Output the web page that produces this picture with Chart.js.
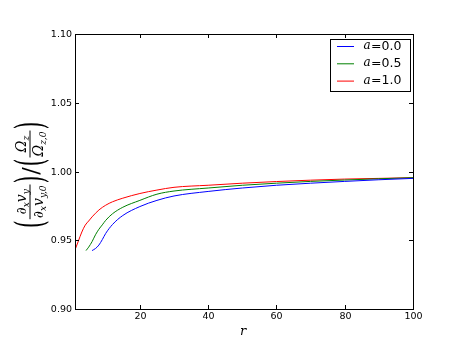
<html>
<head>
<script src="https://cdn.jsdelivr.net/npm/chart.js@4.4.1/dist/chart.umd.min.js"></script>
<style>
  body { margin: 0; background: #fff; }
  #wrap { width: 458px; height: 345px; }
</style>
</head>
<body>
<div id="wrap"><canvas id="line-chart" width="458" height="345"></canvas></div>

<script>
// values
var seriesLabels = ["0.0", "0.5", "1.0"]
var seriesColors = ["#0000ff", "#008000", "#ff0000"]

var rBlue = [6, 7, 8, 9, 10, 12, 15, 20, 25, 30, 40, 50, 60, 70, 80, 90, 100]
var vBlue = [0.9425, 0.944, 0.9465, 0.9505, 0.955, 0.9615, 0.968, 0.9745, 0.979, 0.9822, 0.9855, 0.988, 0.990, 0.9915, 0.9928, 0.994, 0.995]

var rGreen = [4.23, 5, 6, 7, 8, 9, 10, 12, 15, 20, 25, 30, 40, 50, 60, 70, 80, 90, 100]
var vGreen = [0.9425, 0.945, 0.949, 0.954, 0.958, 0.9612, 0.9645, 0.9693, 0.974, 0.979, 0.9835, 0.9858, 0.988, 0.990, 0.9915, 0.9928, 0.9938, 0.9947, 0.9955]

var rRed = [1, 2, 3, 4, 5, 6, 8, 10, 12, 15, 20, 25, 30, 40, 50, 60, 70, 80, 90, 100]
var vRed = [0.943, 0.9495, 0.956, 0.961, 0.964, 0.967, 0.972, 0.9755, 0.978, 0.9806, 0.984, 0.9865, 0.9885, 0.990, 0.9915, 0.9927, 0.9937, 0.9945, 0.995, 0.9955]

var xTicks = [20, 40, 60, 80, 100]
var yTicks = [0.90, 0.95, 1.00, 1.05, 1.10]

function toPoints(xs, ys){
  var pts = []
  for (var i = 0; i < xs.length; i++){
    pts.push({x: xs[i], y: ys[i]})
  }
  return pts
}

var allR = [rBlue, rGreen, rRed]
var allV = [vBlue, vGreen, vRed]
var datasets = []
for (var i = 0; i < 3; i++){
  datasets.push({
    label: seriesLabels[i],
    data: toPoints(allR[i], allV[i]),
    borderColor: seriesColors[i],
    borderWidth: 1,
    pointRadius: 0,
    fill: false,
    cubicInterpolationMode: 'monotone'
  })
}

// frame, inward ticks, tick labels, legend and axis titles
var decorPlugin = {
  id: 'decor',
  afterDraw: function(chart){
    var ctx = chart.ctx
    var a = chart.chartArea
    var xs = chart.scales.x
    var ys = chart.scales.y
    ctx.save()
    ctx.strokeStyle = '#000'
    ctx.lineWidth = 1
    ctx.fillStyle = '#000'
    ctx.font = '9.5px "DejaVu Sans"'
    ctx.beginPath()
    for (var t of xTicks){
      var px = Math.round(xs.getPixelForValue(t)) + 0.5
      ctx.moveTo(px, a.bottom); ctx.lineTo(px, a.bottom - 4)
      ctx.moveTo(px, a.top); ctx.lineTo(px, a.top + 4)
      ctx.textAlign = 'center'
      ctx.textBaseline = 'middle'
      ctx.fillText(String(t), px, a.bottom + 8)
    }
    for (var t of yTicks){
      var py = Math.round(ys.getPixelForValue(t)) + 0.5
      ctx.moveTo(a.left, py); ctx.lineTo(a.left + 4, py)
      ctx.moveTo(a.right, py); ctx.lineTo(a.right - 4, py)
      ctx.textAlign = 'right'
      ctx.textBaseline = 'middle'
      ctx.fillText(t.toFixed(2), a.left - 3, py)
    }
    ctx.stroke()
    ctx.strokeRect(Math.round(a.left) + 0.5, Math.round(a.top) + 0.5, Math.round(a.right - a.left), Math.round(a.bottom - a.top))

    // legend
    var lx = 330.5, ly = 39.5
    ctx.fillStyle = '#fff'
    ctx.fillRect(lx, ly, 80, 52)
    ctx.strokeRect(lx, ly, 80, 52)
    for (var i = 0; i < 3; i++){
      var yy = 46 + i * 17.3
      ctx.strokeStyle = seriesColors[i]
      ctx.beginPath()
      ctx.moveTo(337, yy + 0.5); ctx.lineTo(354, yy + 0.5)
      ctx.stroke()
      ctx.fillStyle = '#000'
      ctx.textBaseline = 'middle'
      ctx.textAlign = 'left'
      ctx.font = 'italic 12px "DejaVu Serif"'
      ctx.fillText('a', 363.5, yy)
      ctx.font = '12.5px "DejaVu Sans"'
      ctx.fillText('=' + seriesLabels[i], 371, yy + 0.5)
    }

    // x title
    ctx.fillStyle = '#000'
    ctx.textAlign = 'center'
    ctx.textBaseline = 'middle'
    ctx.font = 'italic 13px "DejaVu Serif"'
    ctx.fillText('r', 243, 332)

    // y title, drawn rotated
    ctx.translate(30, 172)
    ctx.rotate(-Math.PI / 2)
    drawFormula(ctx)
    ctx.restore()
  }
}

function part(ctx, txt, x, y, size, italic){
  ctx.font = (italic ? 'italic ' : '') + size + 'px "DejaVu Serif"'
  ctx.fillText(txt, x, y)
  return x + ctx.measureText(txt).width
}

function paren(ctx, ch, x){
  ctx.save()
  ctx.font = '40px "DejaVu Serif"'
  ctx.textBaseline = 'middle'
  var w = ctx.measureText(ch).width * 0.5
  ctx.translate(x, 0)
  ctx.scale(0.5, 1)
  ctx.fillText(ch, 0, 3)
  ctx.restore()
  return x + w
}

function fracPart(ctx, x, top, bottom){
  // top/bottom: lists of [text, size, italic, dy]
  ctx.textBaseline = 'alphabetic'
  function width(list){
    var w = 0
    for (var p of list){
      ctx.font = (p[2] ? 'italic ' : '') + p[1] + 'px "DejaVu Serif"'
      w += ctx.measureText(p[0]).width
    }
    return w
  }
  var wt = width(top), wb = width(bottom)
  var w = Math.max(wt, wb) + 2
  var cx = x + (w - wt) / 2
  for (var p of top){ cx = part(ctx, p[0], cx, -4 + p[3], p[1], p[2]) }
  cx = x + (w - wb) / 2
  for (var p of bottom){ cx = part(ctx, p[0], cx, 13 + p[3], p[1], p[2]) }
  ctx.fillRect(x, -0.5, w, 1)
  return x + w
}

function drawFormula(ctx){
  ctx.fillStyle = '#000'
  ctx.textAlign = 'left'
  var x = -56
  x = paren(ctx, '(', x)
  x = fracPart(ctx, x + 1,
    [['\u2202', 14, true, 0], ['x', 9, true, 3], ['v', 14, true, 0], ['y', 9, true, 3]],
    [['\u2202', 14, true, 0], ['x', 9, true, 3], ['v', 14, true, 0], ['y,0', 9, true, 3]])
  x = paren(ctx, ')', x + 1)
  ctx.textBaseline = 'middle'
  x = part(ctx, '/', x + 1, 2, 22, false)
  x = paren(ctx, '(', x + 1)
  x = fracPart(ctx, x + 1,
    [['\u03A9', 14, true, 0], ['z', 9, true, 3]],
    [['\u03A9', 14, true, 0], ['z,0', 9, true, 3]])
  x = paren(ctx, ')', x + 1)
}

var myChart = new Chart(document.getElementById("line-chart"), {
  type: 'line',
  data: { datasets: datasets },
  plugins: [decorPlugin],
  options: {
    responsive: false,
    animation: false,
    devicePixelRatio: 1,
    layout: { padding: { left: 0, top: 34, right: 45, bottom: 0 } },
    plugins: { legend: { display: false }, tooltip: { enabled: false } },
    scales: {
      x: {
        type: 'linear', min: 1, max: 100,
        afterBuildTicks: function(s){ s.ticks = xTicks.map(function(v){ return {value: v} }) },
        afterFit: function(s){ s.height = 36 },
        grid: { display: false },
        border: { display: false },
        ticks: { display: false }
      },
      y: {
        type: 'linear', min: 0.9, max: 1.1,
        afterBuildTicks: function(s){ s.ticks = yTicks.map(function(v){ return {value: v} }) },
        afterFit: function(s){ s.width = 75 },
        grid: { display: false },
        border: { display: false },
        ticks: { display: false }
      }
    }
  }
});
</script>
</body>
</html>
